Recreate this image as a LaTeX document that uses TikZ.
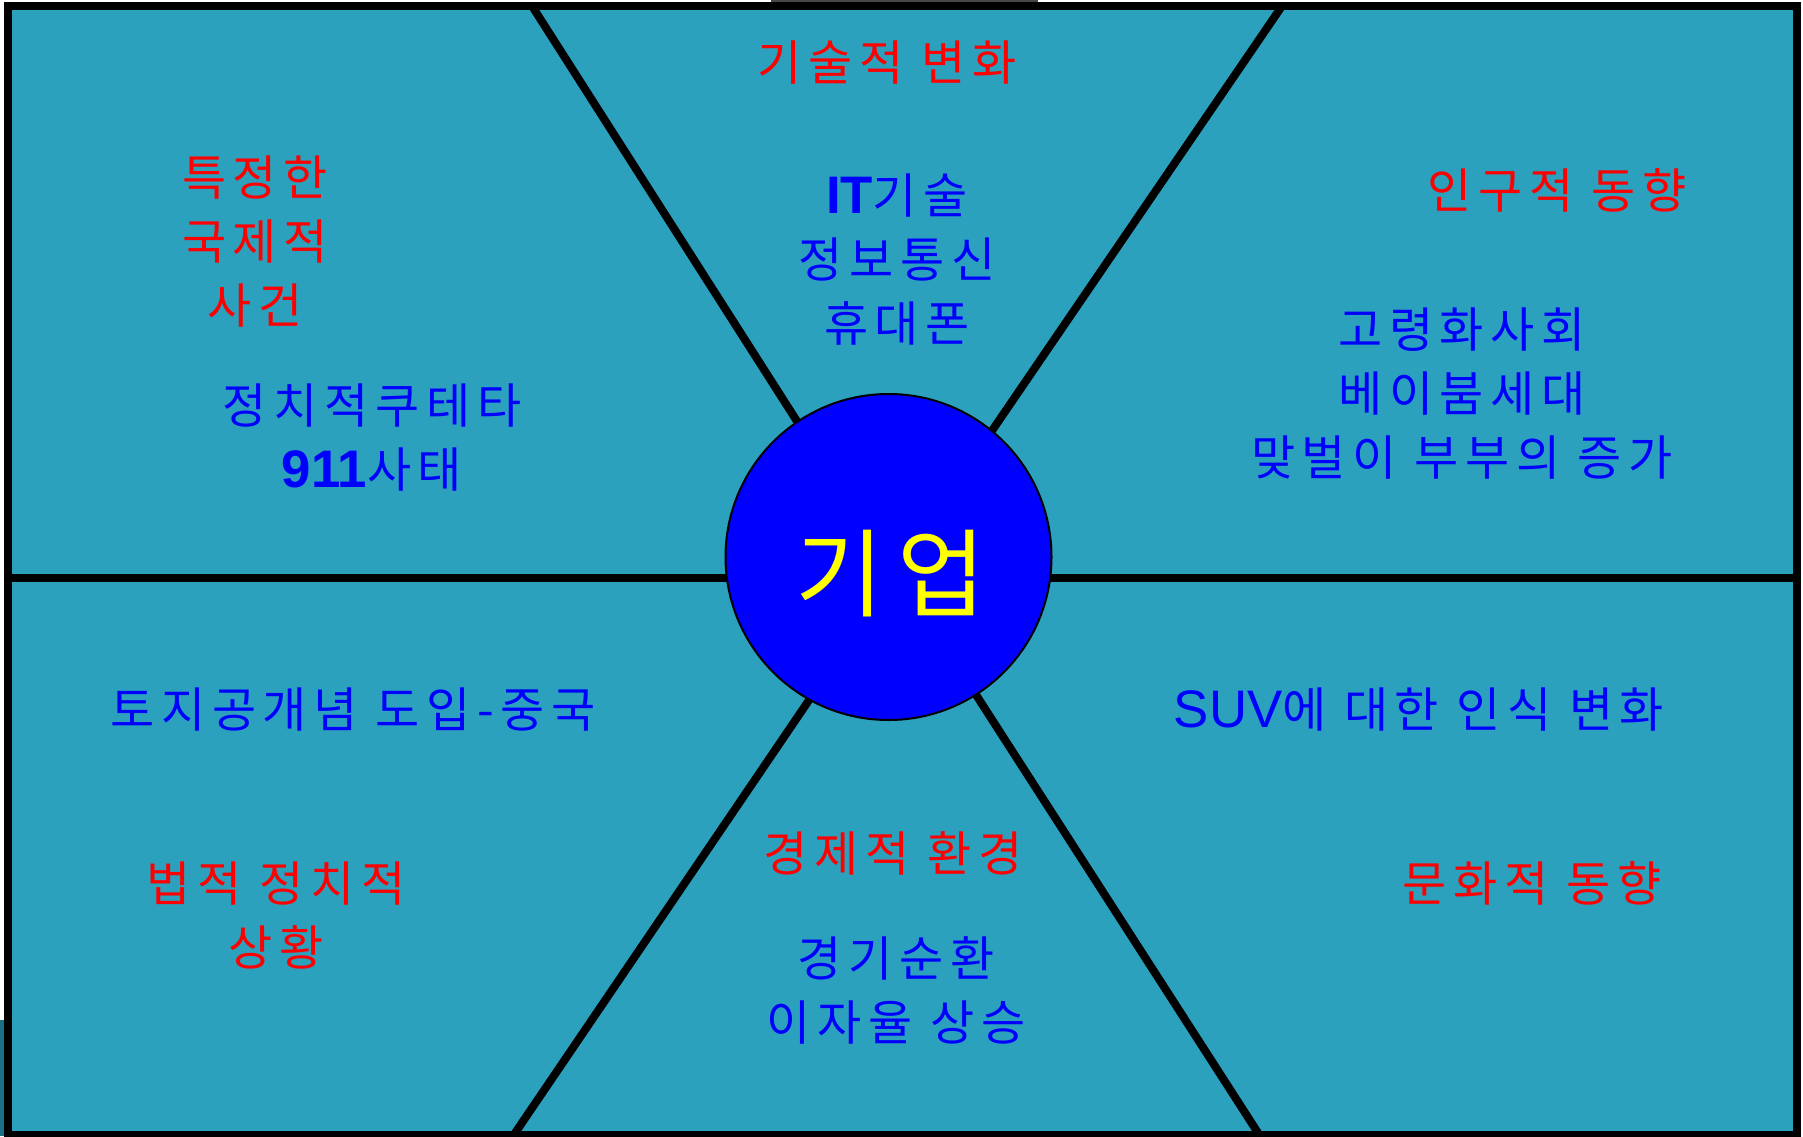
\documentclass[tikz,border=0pt]{standalone}
\usepackage{fontspec}
\setmainfont{Noto Sans CJK KR}[LetterSpace=14]
\newfontfamily\lat{Liberation Sans}[Scale=1.1]
\definecolor{panel}{HTML}{2BA1BE}
\definecolor{hdr}{HTML}{FF0000}
\definecolor{itm}{HTML}{0000FF}
\definecolor{core}{HTML}{FFFF00}
\definecolor{edgemark}{HTML}{1A6F85}
\tikzset{
  lbl/.style={inner sep=0pt, align=center, font=\fontsize{48}{64}\selectfont},
  hdrtxt/.style={lbl, text=hdr},
  itmtxt/.style={lbl, text=itm},
  divider/.style={draw=black, line width=8pt},
}
\begin{document}
\begin{tikzpicture}[x=1pt, y=-1pt]
\useasboundingbox (0,0) rectangle (1803,1136);
\fill[white] (0,0) rectangle (1803,1136);
\fill[edgemark] (0,1020) rectangle (4,1136);
\fill[black!72] (771,0) rectangle (1038,2);
% frame
\draw[divider, fill=panel] (8,6) rectangle (1797,1135);
% named points
\coordinate (c) at (888.5,557);
\coordinate (L) at (8,578);
\coordinate (R) at (1797,578);
\coordinate (tl) at (532,6);
\coordinate (tli) at (860,520);
\coordinate (tr) at (1282,6);
\coordinate (tri) at (931,520);
\coordinate (bl) at (513,1136);
\coordinate (bli) at (877,600);
\coordinate (br) at (1260,1136);
\coordinate (bri) at (915,600);
% dividers
\draw[divider] (L) -- (R);
\draw[divider] (tl) -- (tli);
\draw[divider] (tr) -- (tri);
\draw[divider] (bl) -- (bli);
\draw[divider] (br) -- (bri);
% center circle
\node[circle, draw=black, line width=2pt, fill=itm, minimum size=326pt, inner sep=0pt] (firm) at (c) {};
\node[inner sep=0pt, text=core, font=\fontsize{96}{110}\selectfont] (firmlbl) at (891,574) {기업};
% top
\node[hdrtxt] (tech) at (887,63) {기술적 변화};
\node[itmtxt] (techi) at (897,260) {{\lat\bfseries IT}기술\\정보통신\\휴대폰};
% top left
\node[hdrtxt] (intl) at (255,242) {특정한\\국제적\\사건};
\node[itmtxt] (intli) at (372,438) {정치적쿠테타\\{\lat\bfseries 911}사태};
% top right
\node[hdrtxt] (demo) at (1557,190) {인구적 동향};
\node[itmtxt] (demoi) at (1462,394) {고령화사회\\베이붐세대\\맞벌이 부부의 증가};
% bottom left
\node[itmtxt] (lawi) at (353,710) {토지공개념 도입-중국};
\node[hdrtxt] (law) at (276,915) {법적 정치적\\상황};
% bottom
\node[hdrtxt] (econ) at (893,853) {경제적 환경};
\node[itmtxt] (econi) at (896,990) {경기순환\\이자율 상승};
% bottom right
\node[itmtxt] (culti) at (1419,710) {{\lat SUV}에 대한 인식 변화};
\node[hdrtxt] (cult) at (1532,883) {문화적 동향};
\end{tikzpicture}
\end{document}
